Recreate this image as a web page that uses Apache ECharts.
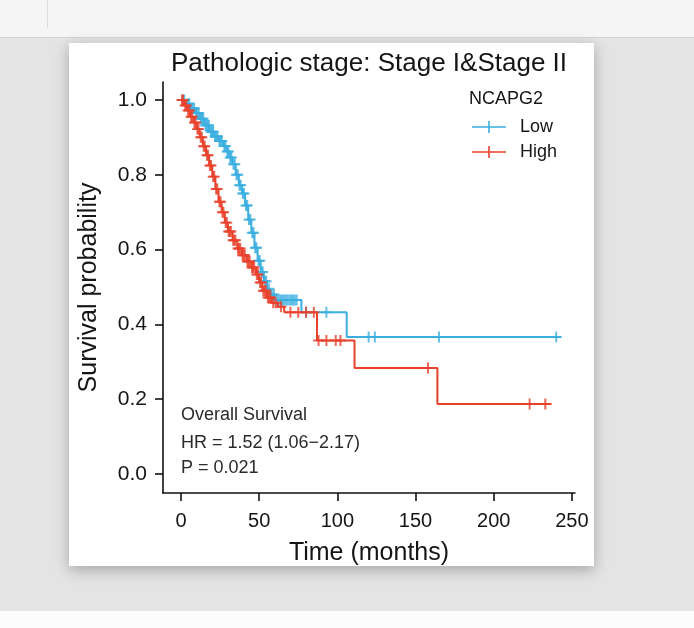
<!DOCTYPE html>
<html>
<head>
<meta charset="utf-8">
<script src="https://cdn.jsdelivr.net/npm/echarts@6/dist/echarts.min.js"></script>
<style>
html,body{margin:0;padding:0;background:#e4e4e4;}
#c{width:694px;height:628px;}
</style>
</head>
<body>
<div id="c"></div>
<script>
// ---- data ----
const xTicks = [0, 50, 100, 150, 200, 250];
const yTicks = [0, 0.2, 0.4, 0.6, 0.8, 1.0];

// Low NCAPG2 (blue): step times (months) and survival after each step
const lowTime = [0, 3, 6, 9, 12, 15, 18, 21, 24, 27, 29, 31, 33, 35, 37, 39, 41, 43, 45, 47, 49, 51, 53, 55, 57, 60, 77, 106];
const lowSurv = [1.000, 0.990, 0.978, 0.965, 0.950, 0.932, 0.915, 0.902, 0.890, 0.877, 0.862, 0.846, 0.828, 0.800, 0.772, 0.750, 0.718, 0.680, 0.645, 0.605, 0.570, 0.540, 0.515, 0.495, 0.480, 0.465, 0.432, 0.366];
const lowCensor = [1.2, 2.1, 4.3, 5.2, 7.1, 8.4, 9.6, 10.5, 11.3, 12.8, 13.5, 14.2, 15.7, 16.4, 17.1, 17.8, 19.2, 19.9, 20.6, 21.8, 22.5, 23.3, 24.6, 25.4, 26.1, 27.7, 28.4, 29.6, 30.3, 31.5, 32.2, 33.6, 34.4, 35.5, 36.3, 37.4, 38.2, 39.5, 40.3, 41.6, 42.4, 43.5, 44.3, 45.6, 46.4, 47.5, 48.3, 49.6, 50.4, 51.5, 52.3, 53.6, 54.5, 56.2, 58.1, 59.4, 61.2, 62.3, 63.5, 64.6, 65.8, 67.0, 68.2, 69.4, 70.5, 71.6, 72.8, 74.0, 80, 93, 120, 124, 165, 240];
const lowEnd = 243;

// High NCAPG2 (red)
const highTime = [0, 2, 4, 6, 8, 10, 12, 14, 16, 18, 20, 22, 24, 26, 28, 30, 33, 36, 39, 42, 45, 48, 50, 52, 55, 58, 62, 66, 87, 111, 164];
const highSurv = [1.000, 0.985, 0.972, 0.955, 0.940, 0.922, 0.900, 0.876, 0.852, 0.825, 0.795, 0.762, 0.728, 0.700, 0.672, 0.648, 0.625, 0.603, 0.585, 0.568, 0.552, 0.533, 0.512, 0.490, 0.472, 0.458, 0.447, 0.432, 0.357, 0.283, 0.187];
const highCensor = [0.6, 1.3, 2.7, 3.4, 4.6, 5.3, 6.5, 7.2, 8.6, 9.3, 10.5, 11.2, 12.6, 13.3, 14.5, 15.2, 16.6, 17.3, 18.5, 19.2, 20.6, 21.3, 22.5, 23.2, 24.6, 25.3, 26.5, 27.2, 28.6, 29.3, 30.5, 31.2, 31.9, 33.4, 34.1, 34.8, 36.5, 37.2, 37.9, 39.4, 40.1, 40.8, 42.5, 43.2, 43.9, 45.4, 46.1, 46.8, 48.5, 49.2, 50.6, 51.3, 52.7, 53.5, 54.3, 55.6, 56.4, 57.2, 59.0, 60.5, 64, 70, 75, 80, 85, 88, 93, 99, 102, 158, 223, 233];
const highEnd = 237;

const annotLines = ['Overall Survival', 'HR = 1.52 (1.06\u22122.17)', 'P = 0.021'];

// ---- helpers ----
const LOW_C = '#3aaee0';
const HIGH_C = '#e8412c';
function stepData(t, s, end) {
  const d = t.map((v, i) => [v, s[i]]);
  d.push([end, s[s.length - 1]]);
  return d;
}
function survAt(t, s, x) {
  let v = s[0];
  for (let i = 0; i < t.length; i++) { if (t[i] <= x) v = s[i]; }
  return v;
}
function censorData(t, s, c) { return c.map(x => [x, survAt(t, s, x)]); }

const plus = 'path://M4.1,0H5.9V4.1H10V5.9H5.9V10H4.1V5.9H0V4.1H4.1Z';
const legendIcon = 'path://M0,5.2H34V6.8H0Z M16.2,0H17.8V12H16.2Z';
const FONT = '"Liberation Sans", Arial, Helvetica, sans-serif';

const chart = echarts.init(document.getElementById('c'), null, {renderer: 'canvas'});
chart.setOption({
  backgroundColor: '#e4e4e4',
  animation: false,
  textStyle: {fontFamily: FONT},
  graphic: [
    {type: 'rect', z: -20, shape: {x: 0, y: 0, width: 694, height: 37}, style: {fill: '#f5f5f5'}},
    {type: 'rect', z: -20, shape: {x: 0, y: 37, width: 694, height: 1}, style: {fill: '#d4d4d4'}},
    {type: 'rect', z: -20, shape: {x: 47, y: 0, width: 1, height: 28}, style: {fill: '#dddddd'}},
    {type: 'rect', z: -20, shape: {x: 0, y: 611, width: 694, height: 17}, style: {fill: '#fcfcfc'}},
    {type: 'rect', z: -10, shape: {x: 69, y: 43, width: 525, height: 523},
      style: {fill: '#ffffff', shadowBlur: 14, shadowColor: 'rgba(0,0,0,0.28)', shadowOffsetY: 4}},
    {type: 'text', z: 50, style: {text: 'Pathologic stage: Stage I&Stage II', x: 369, y: 64,
      textAlign: 'center', textVerticalAlign: 'middle', font: '26px ' + FONT, fill: '#151515'}},
    {type: 'text', z: 50, style: {text: 'NCAPG2', x: 469, y: 99,
      textAlign: 'left', textVerticalAlign: 'middle', font: '18px ' + FONT, fill: '#151515'}},
    {type: 'text', z: 50, style: {text: annotLines[0], x: 181, y: 415,
      textAlign: 'left', textVerticalAlign: 'middle', font: '18px ' + FONT, fill: '#2a2a2a'}},
    {type: 'text', z: 50, style: {text: annotLines[1], x: 181, y: 443,
      textAlign: 'left', textVerticalAlign: 'middle', font: '18px ' + FONT, fill: '#2a2a2a'}},
    {type: 'text', z: 50, style: {text: annotLines[2], x: 181, y: 468,
      textAlign: 'left', textVerticalAlign: 'middle', font: '18px ' + FONT, fill: '#2a2a2a'}}
  ],
  legend: {
    data: [{name: 'Low', icon: legendIcon}, {name: 'High', icon: legendIcon}],
    orient: 'vertical', left: 472, top: 118, padding: 0,
    itemWidth: 34, itemHeight: 12, itemGap: 7,
    textStyle: {fontSize: 18, lineHeight: 18, color: '#151515', fontFamily: FONT, padding: [0, 0, 0, 9]},
    selectedMode: false
  },
  grid: {left: 163, top: 82, width: 412, height: 411, containLabel: false},
  xAxis: {
    type: 'value', min: -11.5, max: 252,
    name: 'Time (months)', nameLocation: 'middle', nameGap: 48,
    nameTextStyle: {fontSize: 25, color: '#151515', fontFamily: FONT},
    axisLine: {show: true, onZero: false, lineStyle: {color: '#111', width: 1.6}},
    axisTick: {show: true, customValues: xTicks, length: 8, lineStyle: {color: '#111', width: 1.6}},
    axisLabel: {customValues: xTicks, fontSize: 20, color: '#151515', margin: 18, fontFamily: FONT},
    splitLine: {show: false}
  },
  yAxis: {
    type: 'value', min: -0.051, max: 1.048,
    name: 'Survival probability', nameLocation: 'middle', nameGap: 61,
    nameTextStyle: {fontSize: 25, color: '#151515', fontFamily: FONT},
    axisLine: {show: true, onZero: false, lineStyle: {color: '#111', width: 1.6}},
    axisTick: {show: true, customValues: yTicks, length: 8, lineStyle: {color: '#111', width: 1.6}},
    axisLabel: {customValues: yTicks, fontSize: 21, color: '#151515', margin: 16, fontFamily: FONT,
      formatter: v => v.toFixed(1)},
    splitLine: {show: false}
  },
  series: [
    {name: 'Low', type: 'line', step: 'end', showSymbol: false, symbol: 'none',
      data: stepData(lowTime, lowSurv, lowEnd), color: LOW_C,
      lineStyle: {color: LOW_C, width: 2}, z: 3},
    {name: 'Low censor', type: 'scatter', symbol: plus, symbolSize: 11,
      data: censorData(lowTime, lowSurv, lowCensor), itemStyle: {color: LOW_C}, z: 4},
    {name: 'High', type: 'line', step: 'end', showSymbol: false, symbol: 'none',
      data: stepData(highTime, highSurv, highEnd), color: HIGH_C,
      lineStyle: {color: HIGH_C, width: 2}, z: 5},
    {name: 'High censor', type: 'scatter', symbol: plus, symbolSize: 11,
      data: censorData(highTime, highSurv, highCensor), itemStyle: {color: HIGH_C}, z: 6}
  ]
});
</script>
</body>
</html>
